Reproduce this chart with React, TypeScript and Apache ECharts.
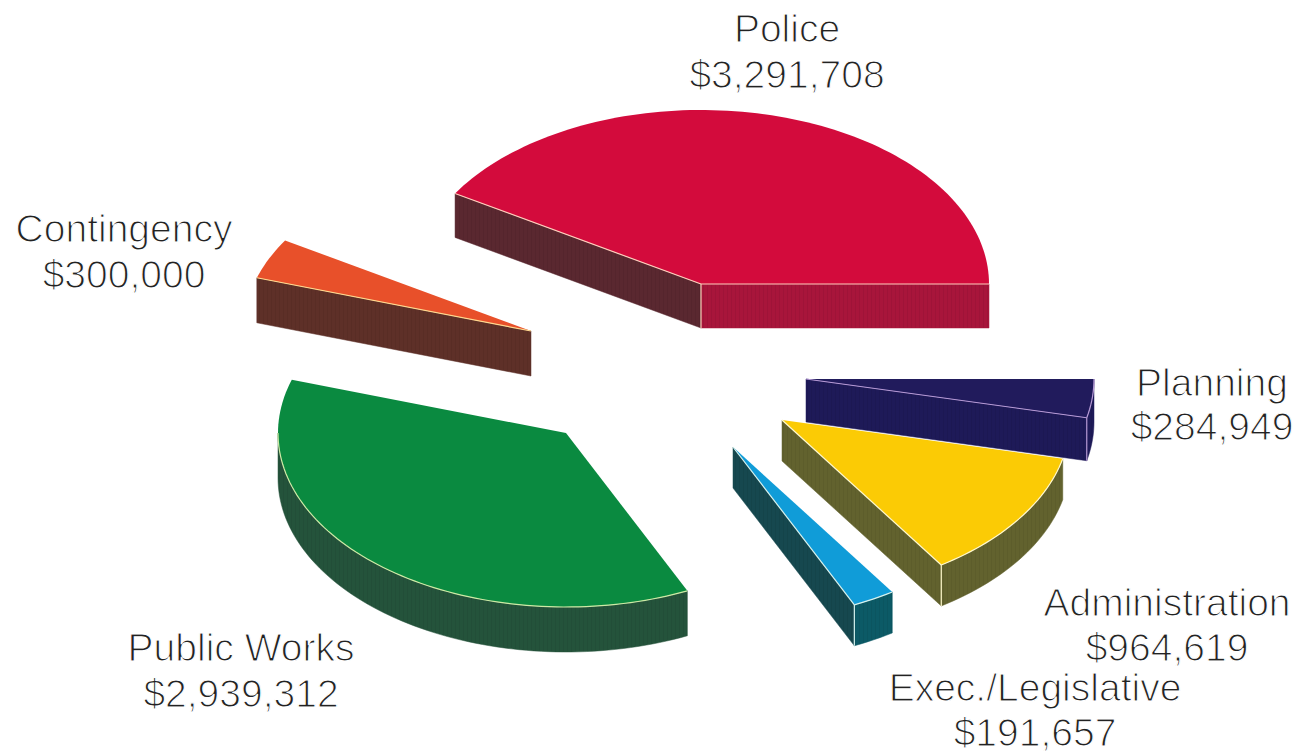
import React, { useEffect, useRef } from "react";
import * as echarts from "echarts";

// City budget by department, in dollars.
const departments = ["Police", "Contingency", "Public Works", "Exec./Legislative", "Administration", "Planning"];
const budgets = [3291708, 300000, 2939312, 191657, 964619, 284949];

// Where each exploded slice's point sits on the page.
const sliceApexX = [701, 531, 566, 733, 782, 806];
const sliceApexY = [284, 331, 433, 447, 420, 379];
const sliceDepth = [44, 45, 45, 41, 41, 43];
// Back-to-front painting order for each slice (Planning sits behind Administration).
const paintRank = [1, 2, 3, 6, 5, 4];

const topColors = ["#d30b3c", "#e8502a", "#0a8a40", "#109cd8", "#fbcb05", "#211b5c"];
const startWallColors = ["#a8153b", "#5e3028", "#24533b", "#16484f", "#62622e", "#1e1a58"];
const endWallColors = ["#5a2830", "#5e3028", "#24533b", "#16484f", "#62622e", "#1e1a58"];
const outerWallColors = ["#a8153b", "#5e3028", "#24533b", "#0c5a66", "#62622e", "#1e1a58"];
const edgeColors = ["#ffcdbb", "#ffd98f", "#cdeaa5", "#d6f2ee", "#fff8cc", "#b79ad6"];

const labelCenterX = [787, 124, 241, 1035, 1167, 1212];
const labelNameY = [43, 243, 662, 702, 617, 397];
const labelValueY = [89, 289, 708, 747, 662, 441];

const RX = 288;
const RY = 174;
const FONT = "'Liberation Sans', Arial, sans-serif";
const FONT_SIZE = 39;

const total = budgets.reduce((a, b) => a + b, 0);
const startAngles: number[] = [];
budgets.reduce((sum, v) => {
  startAngles.push((sum / total) * 360);
  return sum + v;
}, 0);

const rad = (d: number) => (d * Math.PI) / 180;

// Fine vertical banding on the slice walls: a 4px tile with one darker column.
const stripeCache: Record<string, any> = {};
function striped(color: string) {
  if (stripeCache[color]) return stripeCache[color];
  const tile = document.createElement("canvas");
  tile.width = 4;
  tile.height = 4;
  const ctx = tile.getContext("2d")!;
  ctx.fillStyle = color;
  ctx.fillRect(0, 0, 4, 4);
  ctx.fillStyle = "rgba(0,0,0,0.05)";
  ctx.fillRect(3, 0, 1, 4);
  stripeCache[color] = { image: tile.toDataURL(), repeat: "repeat" };
  return stripeCache[color];
}

function renderSlice(params: any, api: any) {
  const i = params.dataIndex;
  const sweep = (api.value(0) / total) * 360;
  const a0 = startAngles[i];
  const a1 = a0 + sweep;
  const depth = sliceDepth[i];
  const [cx, cy] = api.coord([sliceApexX[i], sliceApexY[i]]);
  const rim = (deg: number, drop = 0): number[] => [
    cx + RX * Math.cos(rad(deg)),
    cy - RY * Math.sin(rad(deg)) + drop,
  ];
  const arc = (from: number, to: number, drop = 0) => {
    const pts: number[][] = [];
    const steps = Math.max(2, Math.ceil((to - from) / 1.5));
    for (let s = 0; s <= steps; s++) pts.push(rim(from + ((to - from) * s) / steps, drop));
    return pts;
  };

  const z2 = paintRank[i] * 10;
  const children: any[] = [];
  const wall = (points: number[][], fill: string) =>
    children.push({ type: "polygon", z2, shape: { points }, style: { fill: striped(fill), stroke: fill, lineWidth: 0.5 } });
  const edges: number[][][] = [];
  const apex = [cx, cy];
  const apexLow = [cx, cy + depth];

  const startFaces = Math.cos(rad(a0)) > 0;
  const endFaces = Math.cos(rad(a1)) < 0;
  if (startFaces) {
    wall([apex, rim(a0), rim(a0, depth), apexLow], startWallColors[i]);
    edges.push([apex, rim(a0)]);
  }
  if (endFaces) {
    wall([apex, rim(a1), rim(a1, depth), apexLow], endWallColors[i]);
    edges.push([apex, rim(a1)]);
  }
  if (startFaces && endFaces) edges.push([apex, apexLow]);

  const frontFrom = Math.max(a0, 180);
  const frontTo = Math.min(a1, 360);
  if (frontTo > frontFrom) {
    const upper = arc(frontFrom, frontTo);
    const lower = arc(frontFrom, frontTo, depth).reverse();
    wall(upper.concat(lower), outerWallColors[i]);
    edges.push(upper);
    if (startFaces && frontFrom === a0) edges.push([rim(a0), rim(a0, depth)]);
  }

  children.push({
    type: "polygon",
    z2: z2 + 1,
    shape: { points: [apex, ...arc(a0, a1)] },
    style: { fill: topColors[i] },
  });
  edges.forEach((points) =>
    children.push({
      type: "polyline",
      z2: z2 + 2,
      shape: { points },
      style: { fill: "none", stroke: edgeColors[i], lineWidth: 1.2 },
    })
  );
  return { type: "group", children };
}

function labelTexts() {
  // Vertically centred text, placed a fixed distance above each baseline.
  const rise = 15;
  const common = {
    fontFamily: FONT,
    fontSize: FONT_SIZE,
    fill: "#222222",
    stroke: "#ffffff",
    lineWidth: 1.2,
    align: "center",
    verticalAlign: "middle",
  };
  return departments.flatMap((name, i) => [
    { type: "text", x: labelCenterX[i], y: labelNameY[i] - rise, style: { ...common, text: name } },
    {
      type: "text",
      x: labelCenterX[i],
      y: labelValueY[i] - rise,
      style: { ...common, text: "$" + budgets[i].toLocaleString("en-US") },
    },
  ]);
}

export default function App() {
  const ref = useRef<HTMLDivElement>(null);
  useEffect(() => {
    document.body.style.margin = "0";
    const chart = echarts.init(ref.current!, undefined, { renderer: "svg" });
    chart.setOption({
      animation: false,
      backgroundColor: "#ffffff",
      grid: { left: 0, right: 0, top: 0, bottom: 0 },
      xAxis: { type: "value", min: 0, max: 1297, show: false },
      yAxis: { type: "value", min: 0, max: 752, inverse: true, show: false },
      series: [
        {
          type: "custom",
          coordinateSystem: "cartesian2d",
          clip: false,
          encode: { x: 1, y: 2 },
          data: budgets.map((v, i) => [v, sliceApexX[i], sliceApexY[i]]),
          renderItem: renderSlice,
        },
      ],
      graphic: labelTexts(),
    });
    return () => chart.dispose();
  }, []);
  return (
    <div ref={ref} style={{ width: 1297, height: 752 }}>
      <style>{"svg text { paint-order: fill stroke !important; }"}</style>
    </div>
  );
}
